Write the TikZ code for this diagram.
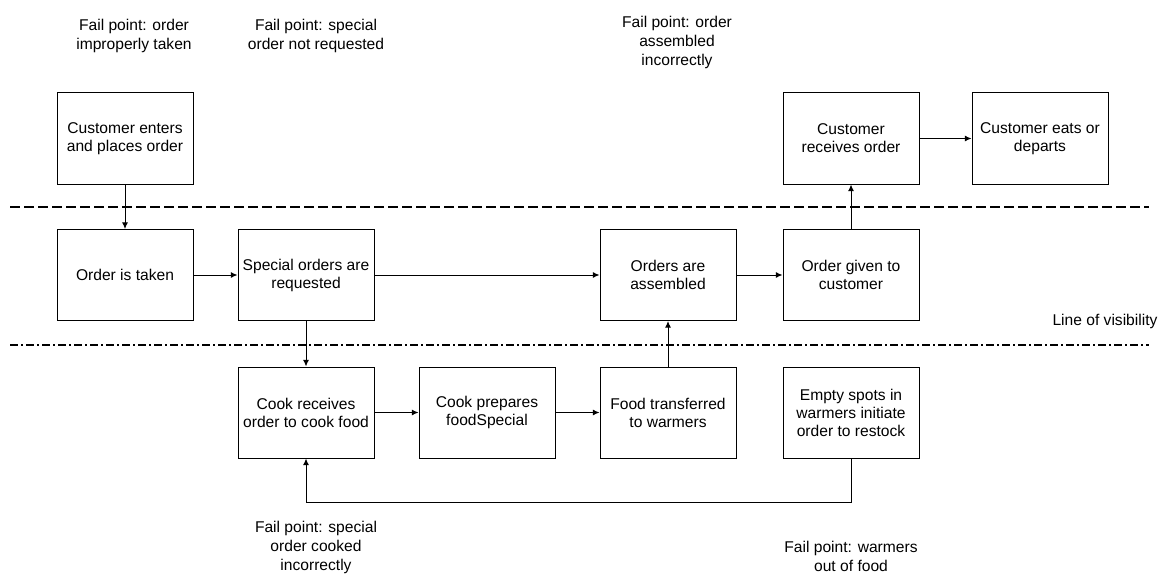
\documentclass[tikz,border=0pt]{standalone}
\usepackage{fontspec}
\setmainfont{Liberation Sans}
\usetikzlibrary{arrows.meta}

\begin{document}
\begin{tikzpicture}[x=0.75pt,y=-0.75pt,
	box/.style={draw, line width=0.75pt, minimum width=102pt, minimum height=68.25pt, inner sep=1pt, align=center, font=\fontsize{11.7}{13.5}\selectfont},
	note/.style={align=center, font=\fontsize{11.7}{14.25}\selectfont},
	flow/.style={line width=0.75pt, -{Latex[length=5pt,width=4.5pt]}},
	visline/.style={line width=1.5pt, dash pattern=on 7.5pt off 3pt},
	intline/.style={line width=1.5pt, dash pattern=on 6pt off 2.25pt on 1.5pt off 2.25pt}]
			%%%%% START %%%%%
			\useasboundingbox (0,0) rectangle (1159,574);
			
			% customer actions
			\node[box] (enters) at (125, 138.5) {Customer enters\\and places order};
			\node[box] (receives) at (851, 138.5) {Customer\\receives order};
			\node[box] (eats) at (1040, 138.5) {Customer eats or\\departs};
			
			% onstage
			\node[box] (taken) at (125, 275) {Order is taken};
			\node[box] (special) at (306, 275) {Special orders are\\requested};
			\node[box] (assembled) at (668, 275) {Orders are\\assembled};
			\node[box] (given) at (851, 275) {Order given to\\customer};
			
			% backstage
			\node[box] (cook) at (306, 412.5) {Cook receives\\order to cook food};
			\node[box] (prepares) at (487, 412.5) {Cook prepares\\foodSpecial};
			\node[box] (transfer) at (668, 412.5) {Food transferred\\to warmers};
			\node[box] (restock) at (851, 412.5) {Empty spots in\\warmers initiate\\order to restock};
			
			% fail points
			\node[note] (failtaken) at (134, 36) {Fail point: order\\improperly taken};
			\node[note] (failspecial) at (316, 36) {Fail point: special\\order not requested};
			\node[note] (failassembled) at (677, 42) {Fail point: order\\assembled\\incorrectly};
			\node[note] (failcooked) at (316, 547) {Fail point: special\\order cooked\\incorrectly};
			\node[note] (failwarmers) at (851, 556) {Fail point: warmers\\out of food};
			\node[note] (visibility) at (1105, 321) {Line of visibility};
			
			% lines of interaction and visibility
			\draw[visline] (10, 207) -- (1149, 207);
			\draw[intline] (10, 345) -- (1149, 345);
			
			\draw[flow] (enters) -- (taken);
			\draw[flow] (taken) -- (special);
			\draw[flow] (special) -- (assembled);
			\draw[flow] (assembled) -- (given);
			\draw[flow] (given) -- (receives);
			\draw[flow] (receives) -- (eats);
			\draw[flow] (special) -- (cook);
			\draw[flow] (cook) -- (prepares);
			\draw[flow] (prepares) -- (transfer);
			\draw[flow] (transfer) -- (assembled);
			\draw[flow] (restock.south) -- ++(0, 44) -| (cook.south);
			
			%%%%% END %%%%%
\end{tikzpicture}
\end{document}
